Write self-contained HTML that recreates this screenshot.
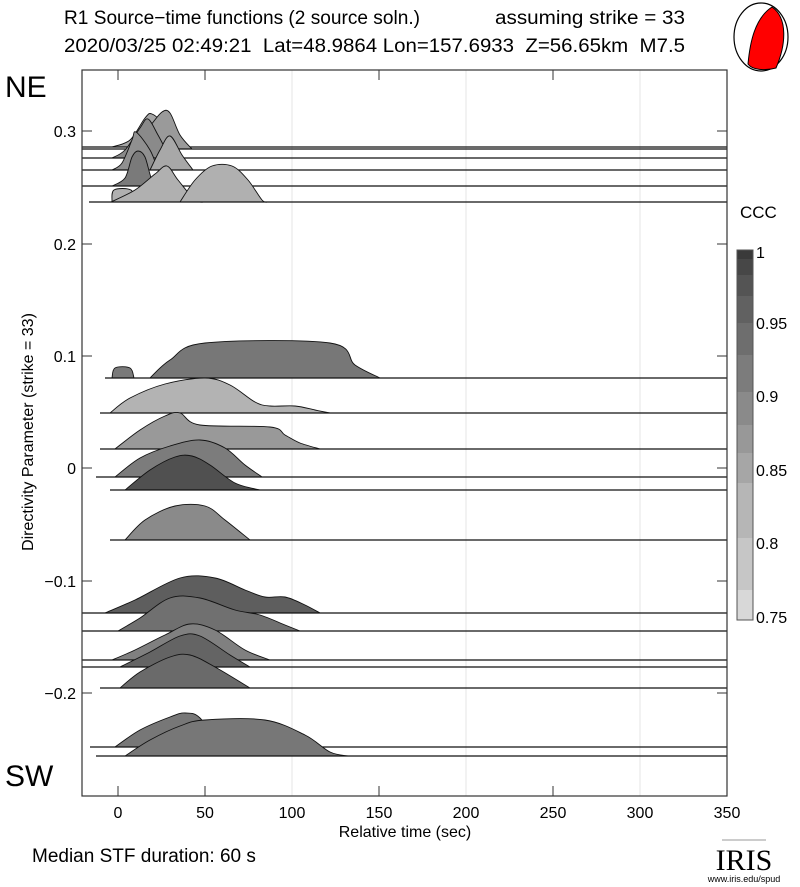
<!DOCTYPE html>
<html><head><meta charset="utf-8"><style>
body{margin:0;background:#fff;}
svg{display:block;font-family:"Liberation Sans",sans-serif;}
</style></head><body>
<svg id="s" width="800" height="887" xmlns="http://www.w3.org/2000/svg">
<rect width="800" height="887" fill="#fff"/>
<text x="64" y="24" font-size="19" textLength="356" lengthAdjust="spacingAndGlyphs">R1 Source−time functions (2 source soln.)</text>
<text x="495" y="24" font-size="19" textLength="190" lengthAdjust="spacingAndGlyphs">assuming strike = 33</text>
<text x="64" y="52" font-size="19" xml:space="preserve" style="white-space:pre" textLength="621" lengthAdjust="spacingAndGlyphs">2020/03/25 02:49:21  Lat=48.9864 Lon=157.6933  Z=56.65km  M7.5</text>
<ellipse cx="761" cy="37" rx="27" ry="34" fill="#fff" stroke="#000" stroke-width="1.2"/>
<path d="M772,7 C788,18 786,45 776,68 C765,71 752,70 748,64 C750,42 755,18 772,7 Z" fill="#f00" stroke="#000" stroke-width="1"/>
<text x="5" y="97" font-size="30">NE</text>
<text x="5" y="786" font-size="30">SW</text>
<text transform="translate(33,432) rotate(-90)" text-anchor="middle" font-size="16">Directivity Parameter (strike = 33)</text>
<g id="grid" stroke="#e4e4e4" stroke-width="1">
<line x1="292" y1="70" x2="292" y2="796"/><line x1="466" y1="70" x2="466" y2="796"/><line x1="640" y1="70" x2="640" y2="796"/>
</g>
<g id="traces"></g>
<rect x="82" y="70" width="645" height="726" fill="none" stroke="#333" stroke-width="1.2"/>
<g id="ticks" stroke="#333" stroke-width="1"></g>
<g font-size="16" text-anchor="middle">
<text x="118" y="818">0</text><text x="205" y="818">50</text><text x="292" y="818">100</text><text x="379" y="818">150</text><text x="466" y="818">200</text><text x="553" y="818">250</text><text x="640" y="818">300</text><text x="727" y="818">350</text>
<text x="405" y="837" font-size="16">Relative time (sec)</text>
</g>
<g font-size="16" text-anchor="end">
<text x="76" y="137">0.3</text><text x="76" y="250">0.2</text><text x="76" y="362">0.1</text><text x="76" y="474">0</text><text x="76" y="587">−0.1</text><text x="76" y="699">−0.2</text>
</g>
<text x="740" y="218" font-size="17">CCC</text>
<g id="cbar"></g>
<rect x="737" y="250" width="16" height="370" fill="none" stroke="#555" stroke-width="1"/>
<g font-size="16"><text x="756" y="258">1</text><text x="756" y="329">0.95</text><text x="756" y="402">0.9</text><text x="756" y="476">0.85</text><text x="756" y="549">0.8</text><text x="756" y="623">0.75</text></g>
<text x="32" y="862" font-size="19">Median STF duration: 60 s</text>
<text x="744" y="870" font-size="30" font-family="Liberation Serif,serif" text-anchor="middle">IRIS</text>
<line x1="722" y1="840" x2="766" y2="840" stroke="#999" stroke-width="1"/>
<text x="744" y="882" font-size="9" text-anchor="middle">www.iris.edu/spud</text>
</svg>
<script>
const NS="http://www.w3.org/2000/svg";
function el(t,a,p){const e=document.createElementNS(NS,t);for(const k in a)e.setAttribute(k,a[k]);p.appendChild(e);return e;}
function smooth(pts){let d="M"+pts[0][0]+","+pts[0][1];for(let i=0;i<pts.length-1;i++){const p0=pts[Math.max(i-1,0)],p1=pts[i],p2=pts[i+1],p3=pts[Math.min(i+2,pts.length-1)];const c1=[p1[0]+(p2[0]-p0[0])/6,p1[1]+(p2[1]-p0[1])/6],c2=[p2[0]-(p3[0]-p1[0])/6,p2[1]-(p3[1]-p1[1])/6];d+=" C"+c1[0].toFixed(1)+","+c1[1].toFixed(1)+" "+c2[0].toFixed(1)+","+c2[1].toFixed(1)+" "+p2[0]+","+p2[1];}return d;}
const T=[
[147,82,[[[[112,147],[130,140],[145,118],[152,114],[165,126],[178,147]],"#a5a5a5"]]],
[149,82,[[[[130,149],[150,126],[162,112],[170,113],[180,135],[192,149]],"#9a9a9a"]]],
[158,82,[[[[112,158],[125,150],[140,128],[148,119],[158,135],[170,158]],"#8a8a8a"]]],
[170,82,[[[[112,170],[122,163],[132,140],[136,132],[150,150],[158,170]],"#909090"],[[[150,170],[160,150],[170,136],[182,155],[193,170]],"#a8a8a8"]]],
[186,82,[[[[112,186],[125,178],[132,157],[138,151],[145,157],[152,180],[160,186]],"#7a7a7a"]]],
[202,89,[[[[112,202],[114,190],[131,190],[133,202]],"#b0b0b0"],[[[111,202],[135,190],[155,174],[167,166],[178,180],[195,200],[205,202]],"#b0b0b0"],[[[180,202],[195,180],[212,166],[232,166],[248,180],[262,200],[268,202]],"#b0b0b0"]]],
[378,105,[[[[112,378],[115,368],[130,368],[134,378]],"#7a7a7a"],[[[150,378],[170,360],[205,343],[330,343],[355,365],[380,378]],"#777"]]],
[413,100,[[[[110,413],[130,398],[165,384],[205,378],[230,385],[255,402],[270,406],[295,406],[315,410],[330,413]],"#b3b3b3"]]],
[449,100,[[[[115,449],[140,430],[165,416],[180,413],[200,425],[270,427],[285,435],[300,443],[320,449]],"#999"]]],
[477,96,[[[[115,477],[140,458],[170,446],[200,440],[225,448],[245,465],[262,477]],"#7c7c7c"]]],
[490,110,[[[[125,490],[150,470],[175,457],[192,456],[210,465],[235,483],[260,490]],"#505050"]]],
[540,110,[[[[125,540],[145,520],[175,506],[205,506],[225,520],[250,540]],"#8a8a8a"]]],
[613,82,[[[[105,613],[135,600],[180,578],[215,578],[245,590],[265,597],[285,597],[305,605],[320,613]],"#5e5e5e"]]],
[631,82,[[[[118,631],[140,618],[170,598],[200,598],[235,610],[260,615],[285,625],[300,631]],"#707070"]]],
[660,82,[[[[112,660],[135,650],[165,635],[190,624],[215,630],[245,650],[270,660]],"#808080"]]],
[667,82,[[[[120,667],[150,652],[180,636],[200,636],[230,655],[250,667]],"#646464"]]],
[688,100,[[[[120,688],[140,672],[170,657],[190,655],[215,667],[250,688]],"#6a6a6a"]]],
[747,90,[[[[115,747],[140,730],[170,717],[185,713],[200,718],[220,747]],"#777"]]],
[756,96,[[[[125,756],[150,740],[180,726],[205,720],[265,720],[305,735],[330,752],[348,756]],"#777"]]]
];
const g=document.getElementById("traces");
T.forEach(([by,sx,shapes])=>{
 shapes.forEach(([pts,c])=>{el("path",{d:smooth(pts)+" Z",fill:c,stroke:"#111","stroke-width":"0.9"},g);});
 el("line",{x1:sx,y1:by,x2:727,y2:by,stroke:"#111","stroke-width":"1.2"},g);
});
const tk=document.getElementById("ticks");
[118,205,379,553].forEach(x=>{el("line",{x1:x,y1:796,x2:x,y2:786},tk);el("line",{x1:x,y1:70,x2:x,y2:80},tk);});
[131,244,356,468,581,693].forEach(y=>{el("line",{x1:82,y1:y,x2:92,y2:y},tk);el("line",{x1:727,y1:y,x2:717,y2:y},tk);});
const cb=document.getElementById("cbar");
const bands=[[250,259,"#3a3a3a"],[259,275,"#474747"],[275,296,"#545454"],[296,323,"#616161"],[323,355,"#6e6e6e"],[355,392,"#7c7c7c"],[392,425,"#8a8a8a"],[425,453,"#989898"],[453,483,"#a6a6a6"],[483,538,"#b6b6b6"],[538,590,"#c6c6c6"],[590,620,"#d8d8d8"]];
bands.forEach(([a,b,c])=>el("rect",{x:737,y:a,width:16,height:b-a,fill:c},cb));
</script>
</body></html>
